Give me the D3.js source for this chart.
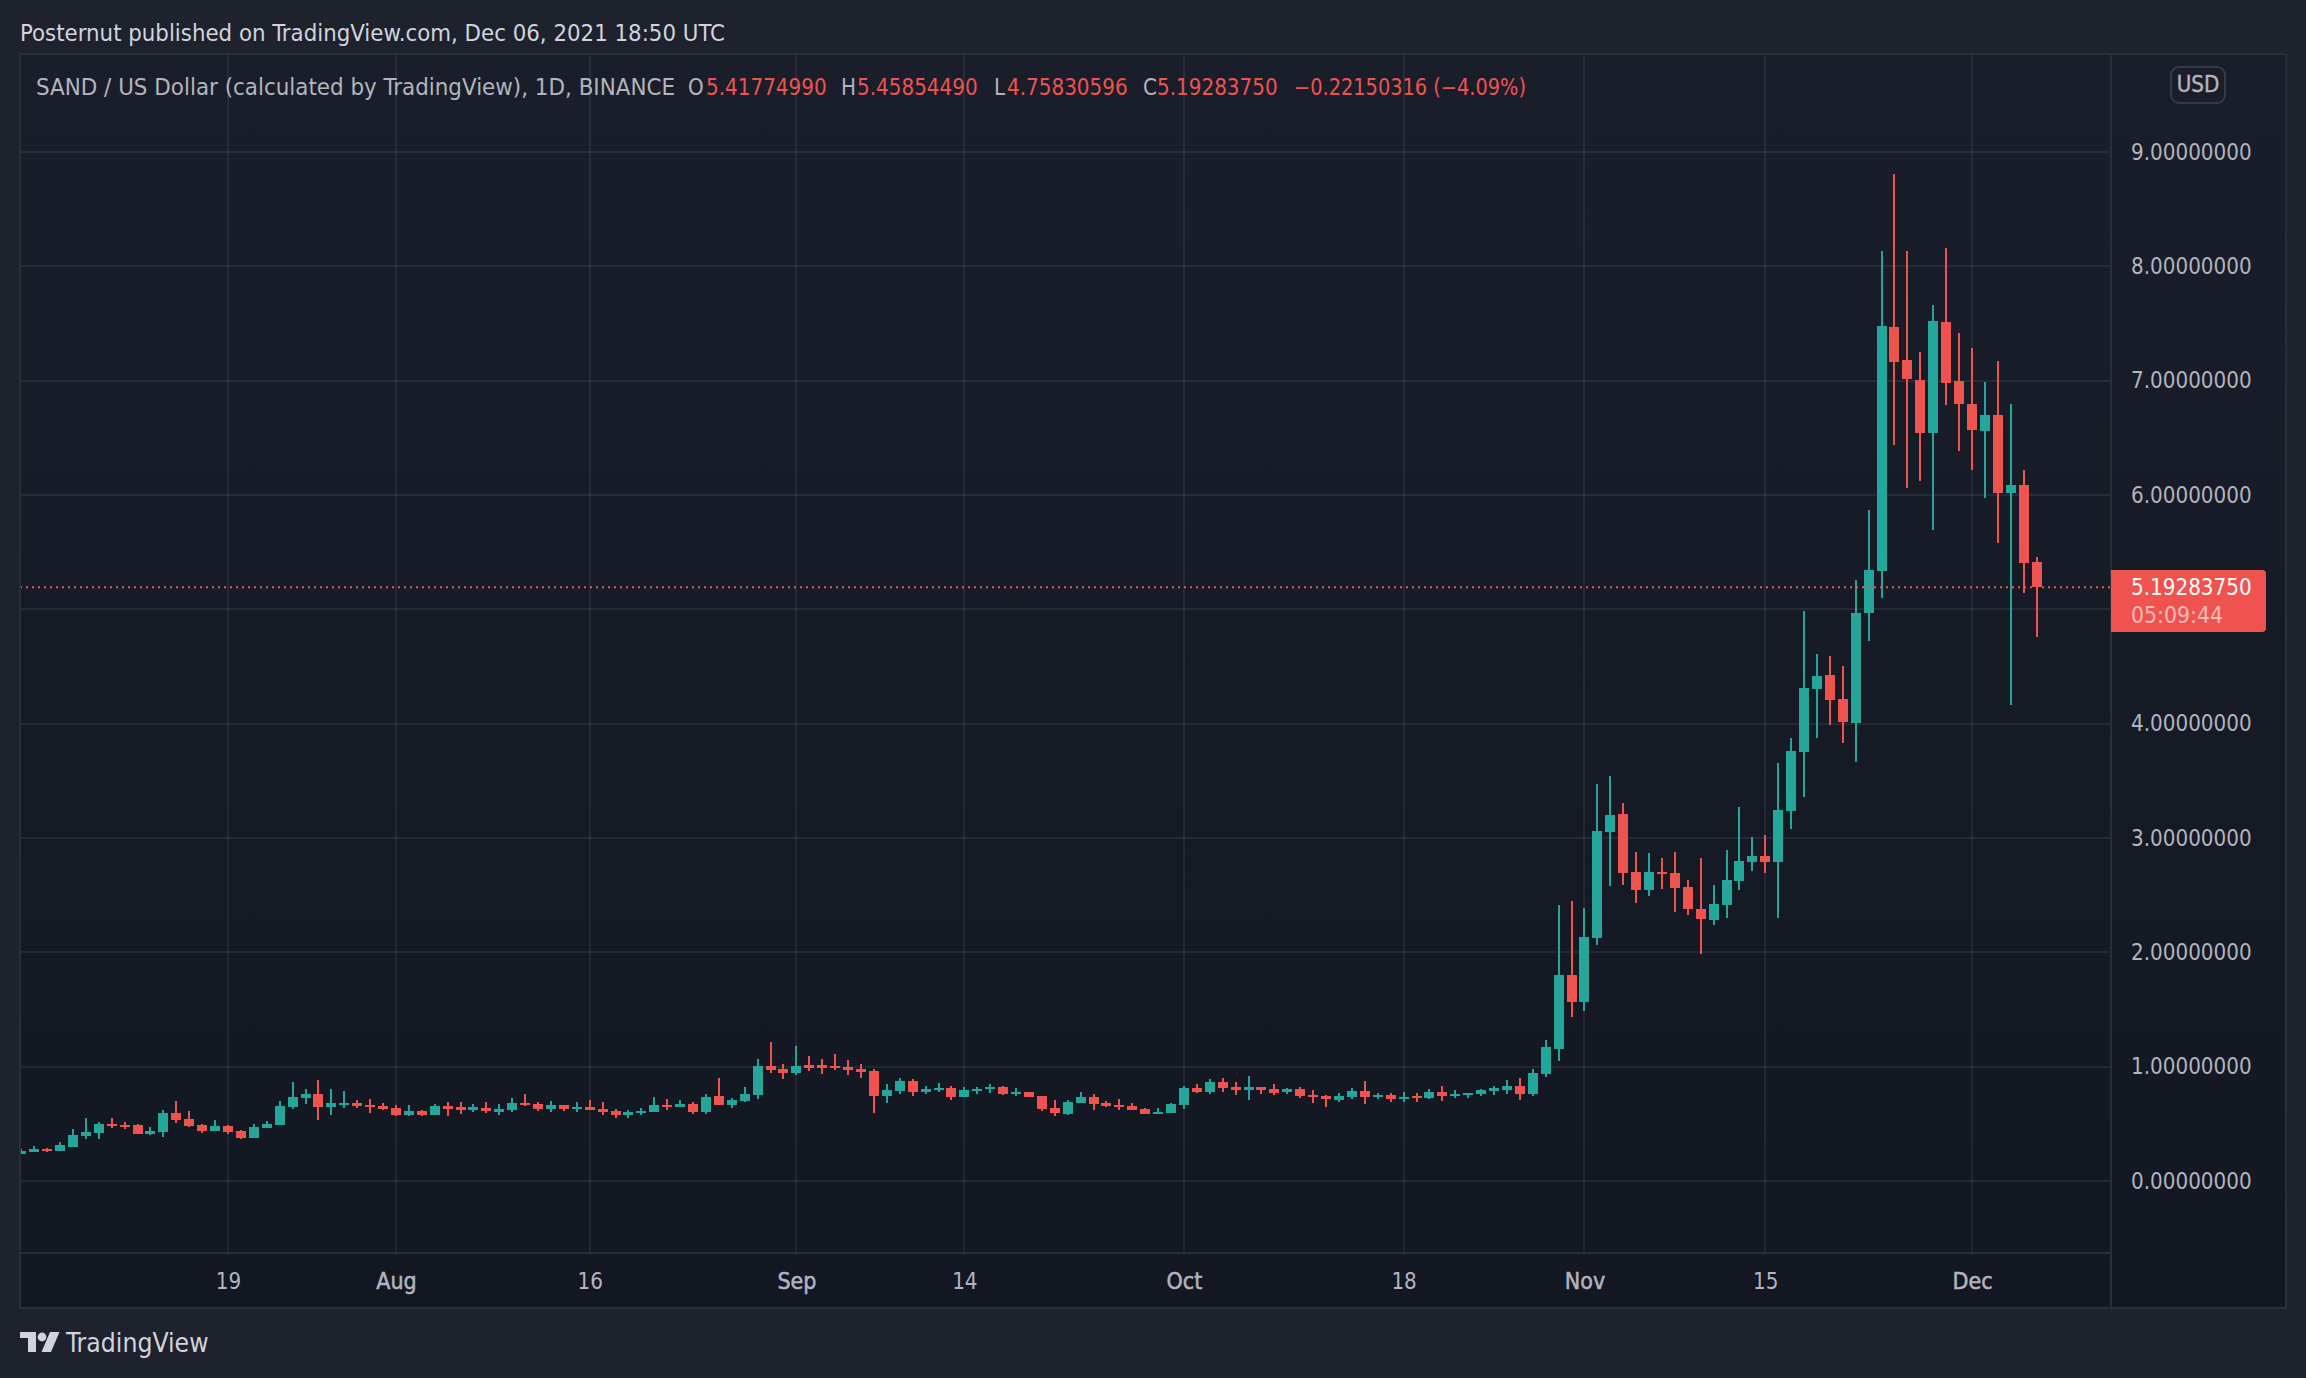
<!DOCTYPE html>
<html>
<head>
<meta charset="utf-8">
<style>
  html, body { margin: 0; padding: 0; background: #1e222d; }
  svg { display: block; }
  text { font-family: "DejaVu Sans", sans-serif; font-stretch: condensed; }
</style>
<script src="https://cdnjs.cloudflare.com/ajax/libs/d3/7.8.5/d3.min.js"></script>
</head>
<body>
<svg id="chart"></svg>
<script>
// daily candles, starting on the first date
const firstDay = '2021-07-03'
const opens = [.234,.251,.278,.260,.295,.392,.418,.497,.494,.488,.409,.427,.594,.541,.488,.436,.480,.436,.374,.462,.488,.646,.725,.760,.646,.664,.681,.664,.655,.637,.576,.611,.576,.655,.643,.623,.637,.602,.620,.681,.673,.629,.664,.629,.646,.629,.611,.576,.594,.602,.664,.646,.673,.602,.743,.664,.699,.751,1.006,.980,.944,1.015,1.015,1.006,.997,.980,.962,.743,.787,.874,.778,.795,.813,.734,.787,.804,.822,.760,.778,.743,.637,.585,.681,.734,.681,.664,.655,.629,.585,.594,.664,.813,.778,.865,.822,.795,.822,.804,.778,.804,.749,.743,.708,.734,.787,.734,.751,.716,.740,.725,.778,.743,.751,.760,.787,.796,.831,.761,.936,1.155,1.802,1.566,2.126,3.053,3.211,2.703,2.546,2.703,2.695,2.572,2.380,2.283,2.415,2.625,2.791,2.843,2.791,3.237,3.753,4.303,4.426,4.215,4.008,4.968,5.334,7.470,7.182,7.008,6.543,7.517,6.997,6.797,6.563,6.700,6.020,6.090,5.41775]
const highs = [.278,.304,.287,.339,.453,.550,.515,.550,.515,.497,.471,.620,.699,.611,.497,.532,.488,.444,.497,.523,.699,.865,.804,.883,.804,.787,.708,.716,.681,.664,.664,.620,.673,.690,.690,.673,.690,.673,.725,.760,.690,.699,.664,.690,.708,.690,.629,.620,.637,.734,.716,.708,.690,.760,.901,.725,.822,1.067,1.216,1.023,1.181,1.094,1.067,1.111,1.058,1.023,.980,.848,.901,.892,.830,.857,.830,.822,.822,.848,.830,.813,.778,.743,.708,.708,.778,.760,.699,.716,.681,.637,.637,.681,.830,.848,.892,.901,.865,.918,.822,.848,.813,.822,.795,.751,.769,.813,.874,.769,.769,.778,.769,.804,.830,.795,.769,.804,.831,.884,.901,.980,1.234,2.415,2.450,2.388,3.473,3.543,3.307,2.878,2.870,2.826,2.878,2.633,2.826,2.590,2.896,3.272,3.010,3.027,3.657,3.874,4.987,4.611,4.594,4.507,5.256,5.866,8.136,8.809,8.136,7.252,7.664,8.163,7.420,7.289,6.991,7.175,6.797,6.221,5.45854]
const lows = [.234,.251,.251,.260,.295,.365,.365,.462,.453,.409,.401,.383,.506,.471,.418,.436,.409,.365,.374,.462,.488,.629,.673,.532,.576,.637,.637,.594,.620,.567,.567,.567,.576,.567,.585,.602,.594,.576,.602,.655,.611,.602,.611,.602,.620,.576,.550,.550,.576,.602,.620,.646,.585,.585,.664,.637,.690,.716,.944,.892,.927,.962,.936,.971,.927,.901,.594,.681,.760,.743,.760,.778,.708,.734,.760,.769,.751,.743,.734,.611,.567,.576,.681,.620,.646,.620,.620,.585,.585,.594,.629,.769,.760,.778,.751,.708,.760,.751,.760,.725,.681,.646,.690,.716,.673,.716,.690,.690,.690,.716,.699,.725,.725,.743,.752,.761,.709,.744,.910,1.050,1.435,1.487,2.065,2.581,2.590,2.432,2.493,2.555,2.353,2.327,1.986,2.240,2.301,2.546,2.712,2.695,2.301,3.080,3.360,3.874,3.988,3.830,3.666,4.724,5.100,6.438,6.064,6.124,5.696,6.790,6.385,6.221,5.976,5.582,4.165,5.143,4.75831]
const closes = [.260,.278,.260,.313,.401,.427,.497,.480,.474,.409,.436,.594,.532,.480,.436,.480,.427,.374,.471,.497,.655,.734,.760,.646,.681,.681,.655,.646,.629,.576,.611,.576,.655,.629,.623,.643,.611,.629,.681,.664,.629,.664,.629,.646,.620,.602,.576,.602,.611,.664,.646,.673,.602,.734,.664,.708,.760,1.006,.971,.944,1.006,.988,.988,.988,.971,.953,.743,.795,.874,.778,.804,.813,.734,.795,.804,.822,.760,.778,.734,.629,.594,.690,.734,.673,.655,.646,.620,.585,.602,.673,.813,.778,.865,.813,.795,.822,.795,.769,.804,.743,.731,.716,.743,.787,.734,.751,.716,.734,.722,.778,.743,.760,.769,.795,.814,.831,.761,.945,1.172,1.802,1.566,2.135,3.062,3.202,2.695,2.546,2.703,2.686,2.563,2.380,2.292,2.423,2.633,2.800,2.843,2.791,3.246,3.762,4.313,4.416,4.209,4.015,4.968,5.344,7.480,7.165,7.018,6.543,7.523,6.981,6.797,6.569,6.700,6.020,6.090,5.408,5.19284]

const priceTicks = [0, 1, 2, 3, 4, 5, 6, 7, 8, 9]
// 5.00000000 sits under the price tag in the picture
const priceLabels = [0, 1, 2, 3, 4, 6, 7, 8, 9]
const timeTicks = ['2021-07-19', '2021-08-01', '2021-08-16', '2021-09-01', '2021-09-14', '2021-10-01', '2021-10-18', '2021-11-01', '2021-11-15', '2021-12-01']
const timeLabels = ['19', 'Aug', '16', 'Sep', '14', 'Oct', '18', 'Nov', '15', 'Dec']

const lastPrice = 5.1928375
const countdown = '05:09:44'
const headline = 'Posternut published on TradingView.com, Dec 06, 2021 18:50 UTC'
const symbolLine = 'SAND / US Dollar (calculated by TradingView), 1D, BINANCE'
const legendKeys = ['O', 'H', 'L', 'C']
const legendValues = ['5.41774990', '5.45854490', '4.75830596', '5.19283750']
const legendChange = '\u22120.22150316 (\u22124.09%)'

const chartWidth = 2306
const chartHeight = 1378
const plotLeft = 20
const plotTop = 54
const plotRight = 2111
const plotBottom = 1253
const axisRight = 2286
const axisBottom = 1308

const upColor = '#26a69a'
const downColor = '#ef5350'
const gridColor = '#f0f3fa'
const frameColor = '#2a2e39'
const axisText = '#b2b5be'
const fontSize = 22.2

const parseDay = d3.utcParse('%Y-%m-%d')
const start = parseDay(firstDay)
const candles = closes.map((c, i) => ({
  date: d3.utcDay.offset(start, i),
  open: opens[i],
  high: highs[i],
  low: lows[i],
  close: c
}))

const x = d3.scaleUtc()
  .domain([parseDay('2021-07-19'), parseDay('2021-12-01')])
  .range([228, 1972])
const y = d3.scaleLinear()
  .domain([0, 9])
  .range([1181, 152])

const svg = d3.select('#chart')
  .attr('width', chartWidth)
  .attr('height', chartHeight)
  .attr('viewBox', `0 0 ${chartWidth} ${chartHeight}`)

const defs = svg.append('defs')
defs.append('clipPath')
  .attr('id', 'plot-clip')
  .append('rect')
  .attr('x', plotLeft)
  .attr('y', plotTop)
  .attr('width', plotRight - plotLeft)
  .attr('height', plotBottom - plotTop)

const paneFill = defs.append('linearGradient')
  .attr('id', 'pane-fill')
  .attr('x1', 0).attr('x2', 0)
  .attr('y1', 0).attr('y2', 1)
paneFill.append('stop').attr('offset', 0).attr('stop-color', '#1a1e2a')
paneFill.append('stop').attr('offset', 1).attr('stop-color', '#131722')

// panes
svg.append('rect')
  .attr('x', plotLeft)
  .attr('y', plotTop)
  .attr('width', axisRight - plotLeft)
  .attr('height', axisBottom - plotTop)
  .attr('fill', 'url(#pane-fill)')

// grid
const gridLayer = svg.append('g')
  .attr('shape-rendering', 'crispEdges')
  .attr('stroke', gridColor)
  .attr('stroke-opacity', 0.07)
  .attr('stroke-width', 2)
gridLayer.selectAll('.h')
  .data(priceTicks)
  .join('line')
  .attr('class', 'h')
  .attr('x1', plotLeft)
  .attr('x2', plotRight)
  .attr('y1', d => Math.round(y(d)))
  .attr('y2', d => Math.round(y(d)))
gridLayer.selectAll('.v')
  .data(timeTicks)
  .join('line')
  .attr('class', 'v')
  .attr('x1', d => Math.round(x(parseDay(d))))
  .attr('x2', d => Math.round(x(parseDay(d))))
  .attr('y1', plotTop)
  .attr('y2', plotBottom)

// candles
const candleLayer = svg.append('g')
  .attr('clip-path', 'url(#plot-clip)')
  .attr('shape-rendering', 'crispEdges')
const candle = candleLayer.selectAll('g')
  .data(candles)
  .join('g')
  .attr('fill', d => d.close >= d.open ? upColor : downColor)
candle.append('rect')
  .attr('x', d => Math.round(x(d.date)) - 1)
  .attr('width', 2)
  .attr('y', d => y(d.high))
  .attr('height', d => y(d.low) - y(d.high))
candle.append('rect')
  .attr('x', d => Math.round(x(d.date)) - 5)
  .attr('width', 10)
  .attr('y', d => y(Math.max(d.open, d.close)))
  .attr('height', d => Math.max(2, Math.abs(y(d.open) - y(d.close))))

// last price line
svg.append('line')
  .attr('x1', plotLeft)
  .attr('x2', plotRight)
  .attr('y1', y(lastPrice))
  .attr('y2', y(lastPrice))
  .attr('stroke', downColor)
  .attr('stroke-width', 2)
  .attr('stroke-dasharray', '2 4')

// frame
const frameLayer = svg.append('g')
  .attr('stroke', frameColor)
  .attr('stroke-width', 2)
  .attr('fill', 'none')
  .attr('shape-rendering', 'crispEdges')
frameLayer.append('rect')
  .attr('x', plotLeft)
  .attr('y', plotTop)
  .attr('width', axisRight - plotLeft)
  .attr('height', axisBottom - plotTop)
frameLayer.append('line')
  .attr('x1', plotLeft).attr('x2', plotRight)
  .attr('y1', plotBottom).attr('y2', plotBottom)
frameLayer.append('line')
  .attr('x1', plotRight).attr('x2', plotRight)
  .attr('y1', plotTop).attr('y2', axisBottom)

// axes
const priceAxis = svg.append('g')
  .attr('transform', `translate(${plotRight},0)`)
  .call(d3.axisRight(y).tickValues(priceLabels).tickSize(0).tickPadding(20).tickFormat(d3.format('.8f')))
priceAxis.select('.domain').remove()
priceAxis.attr('font-family', null).attr('font-size', fontSize)
priceAxis.selectAll('text').attr('fill', axisText)

const timeAxis = svg.append('g')
  .attr('transform', `translate(0,${plotBottom})`)
  .call(d3.axisBottom(x)
    .tickValues(timeTicks.map(parseDay))
    .tickSize(0)
    .tickPadding(20)
    .tickFormat((d, i) => timeLabels[i]))
timeAxis.select('.domain').remove()
timeAxis.attr('font-family', null).attr('font-size', fontSize)
timeAxis.selectAll('text')
  .attr('fill', axisText)
  .filter(function () { return isNaN(+this.textContent) })
  .attr('font-size', 23)
  .attr('stroke', axisText)
  .attr('stroke-width', 0.5)

// price tag
const tagTop = 570
const tagBottom = 632
svg.append('path')
  .attr('d', `M${plotRight},${tagTop}H2262a4,4 0 0 1 4,4V${tagBottom - 4}a4,4 0 0 1 -4,4H${plotRight}Z`)
  .attr('fill', downColor)
svg.append('text')
  .attr('x', plotRight + 20)
  .attr('y', 595)
  .attr('fill', '#ffffff')
  .attr('font-size', fontSize)
  .text(d3.format('.8f')(lastPrice))
svg.append('text')
  .attr('x', plotRight + 20)
  .attr('y', 623)
  .attr('fill', '#ffffff')
  .attr('fill-opacity', 0.6)
  .attr('font-size', fontSize)
  .attr('textLength', 92)
  .attr('lengthAdjust', 'spacingAndGlyphs')
  .text(countdown)

// currency button
svg.append('rect')
  .attr('x', 2171)
  .attr('y', 67)
  .attr('width', 54)
  .attr('height', 36)
  .attr('rx', 8)
  .attr('fill', 'none')
  .attr('stroke', '#363a45')
  .attr('stroke-width', 2)
svg.append('text')
  .attr('x', 2198)
  .attr('y', 92)
  .attr('text-anchor', 'middle')
  .attr('fill', axisText)
  .attr('stroke', axisText)
  .attr('stroke-width', 0.4)
  .attr('font-size', fontSize)
  .text('USD')

// headline and legend
svg.append('text')
  .attr('x', 20)
  .attr('y', 41)
  .attr('fill', '#d1d4dc')
  .attr('font-size', 23)
  .attr('textLength', 705)
  .attr('lengthAdjust', 'spacingAndGlyphs')
  .text(headline)

svg.append('text')
  .attr('x', 36)
  .attr('y', 95)
  .attr('fill', axisText)
  .attr('font-size', fontSize)
  .attr('textLength', 639)
  .attr('lengthAdjust', 'spacingAndGlyphs')
  .text(symbolLine)

const keyX = [688, 841, 994, 1143]
const valueX = [706, 857, 1007, 1157]
legendKeys.forEach((k, i) => {
  svg.append('text')
    .attr('x', keyX[i])
    .attr('y', 95)
    .attr('fill', axisText)
    .attr('font-size', fontSize)
    .text(k)
  svg.append('text')
    .attr('x', valueX[i])
    .attr('y', 95)
    .attr('fill', downColor)
    .attr('font-size', fontSize)
    .text(legendValues[i])
})
svg.append('text')
  .attr('x', 1294)
  .attr('y', 95)
  .attr('fill', downColor)
  .attr('font-size', fontSize)
  .attr('textLength', 232)
  .attr('lengthAdjust', 'spacingAndGlyphs')
  .text(legendChange)

// logo
const logo = svg.append('g').attr('fill', '#d1d4dc')
logo.append('path').attr('d', 'M20,1332H36V1352H28V1338H20Z')
logo.append('circle').attr('cx', 42).attr('cy', 1337).attr('r', 4.4)
logo.append('path').attr('d', 'M50,1332H59.5L51,1352H41.5Z')
svg.append('text')
  .attr('x', 66)
  .attr('y', 1352)
  .attr('fill', '#d1d4dc')
  .attr('font-size', 26.3)
  .text('TradingView')
</script>
</body>
</html>
